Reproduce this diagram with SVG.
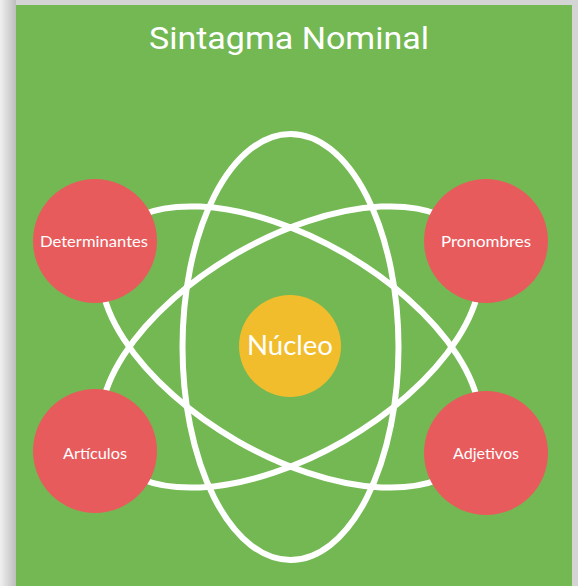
<svg xmlns="http://www.w3.org/2000/svg" width="578" height="586" viewBox="0 0 578 586">
  <defs>
    <linearGradient id="leftShade" x1="0" y1="0" x2="1" y2="0">
      <stop offset="0" stop-color="#f0f0f0"/>
      <stop offset="1" stop-color="#bdbdbd"/>
    </linearGradient>
    <style>
      .orbit { fill: none; stroke: #ffffff; stroke-width: 6; }
      .outer { fill: #e85b5d; }
      .core { fill: #f1bd2d; }
      .lbl { font-family: Lato, "Open Sans", "Liberation Sans", sans-serif; fill: #ffffff; text-anchor: middle; }
      .small { font-size: 15px; }
    </style>
  </defs>
  <rect x="0" y="0" width="578" height="586" fill="#d4d4d4"/>
  <rect x="0" y="0" width="16" height="586" fill="url(#leftShade)"/>
  <rect x="16" y="5" width="556" height="581" fill="#73b853"/>
  <text x="289" y="49" class="lbl" style="font-family: Roboto, 'Liberation Sans', sans-serif; font-size: 32px;" textLength="280" lengthAdjust="spacingAndGlyphs">Sintagma Nominal</text>
  <g id="connectors">
    <ellipse class="orbit" cx="290.5" cy="347" rx="213" ry="108" transform="rotate(90 290.5 347)"/>
    <ellipse class="orbit" cx="290.5" cy="347" rx="210" ry="108" transform="rotate(30 290.5 347)"/>
    <ellipse class="orbit" cx="290.5" cy="347" rx="210" ry="108" transform="rotate(-30 290.5 347)"/>
  </g>
  <g id="nucleo">
    <circle class="core" cx="290" cy="346" r="51"/>
    <text class="lbl" x="290" y="355" style="font-size: 27px;" textLength="86" lengthAdjust="spacingAndGlyphs">Núcleo</text>
  </g>
  <g id="determinantes">
    <circle class="outer" cx="95" cy="241" r="62"/>
    <text class="lbl small" x="94" y="247" textLength="108" lengthAdjust="spacingAndGlyphs">Determinantes</text>
  </g>
  <g id="pronombres">
    <circle class="outer" cx="486" cy="241" r="62"/>
    <text class="lbl small" x="486" y="247" textLength="90" lengthAdjust="spacingAndGlyphs">Pronombres</text>
  </g>
  <g id="articulos">
    <circle class="outer" cx="95" cy="451" r="62"/>
    <text class="lbl small" x="95" y="459" textLength="64" lengthAdjust="spacingAndGlyphs">Artículos</text>
  </g>
  <g id="adjetivos">
    <circle class="outer" cx="486" cy="453" r="62"/>
    <text class="lbl small" x="486" y="459" textLength="66" lengthAdjust="spacingAndGlyphs">Adjetivos</text>
  </g>
</svg>
